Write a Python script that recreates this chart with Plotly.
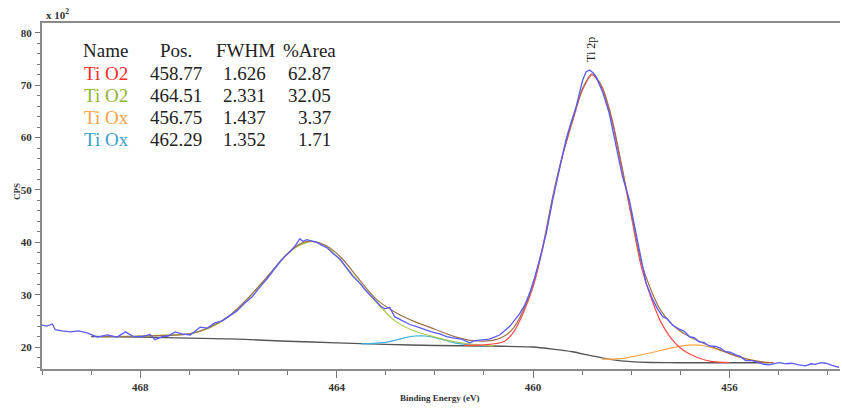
import plotly.graph_objects as go

# ---------------- data ----------------
data_be = [470.00, 469.90, 469.79, 469.73, 469.59, 469.42, 469.26, 469.08, 468.87, 468.67,
           468.47, 468.30, 468.14, 467.96, 467.80, 467.70, 467.55, 467.43, 467.29, 467.15,
           466.98, 466.78, 466.64, 466.48, 466.33, 466.17, 466.03, 465.87, 465.72, 465.56,
           465.42, 465.26, 465.11, 464.95, 464.83, 464.75, 464.69, 464.61, 464.50, 464.40,
           464.30, 464.20, 464.08, 463.93, 463.79, 463.67, 463.53, 463.39, 463.22, 463.10,
           463.02, 462.92, 462.82, 462.67, 462.51, 462.37, 462.21, 462.07, 461.90, 461.76,
           461.60, 461.46, 461.29, 461.19, 461.09, 460.89, 460.68, 460.48, 460.28, 460.17,
           460.07, 459.97, 459.87, 459.73, 459.60, 459.46, 459.33, 459.23, 459.12, 458.99,
           458.92, 458.85, 458.79, 458.72, 458.58, 458.45, 458.31, 458.18, 458.04, 457.94,
           457.84, 457.70, 457.56, 457.46, 457.36, 457.27, 457.16, 457.02, 456.92, 456.82,
           456.72, 456.62, 456.52, 456.42, 456.28, 456.19, 456.08, 455.99, 455.87, 455.78,
           455.67, 455.54, 455.40, 455.30, 455.20, 455.09, 454.99, 454.85, 454.73, 454.59,
           454.45, 454.34, 454.25, 454.14, 454.04, 453.91, 453.77]
data_cps = [24.2, 24.0, 24.4, 23.3, 23.1, 22.9, 23.1, 22.7, 21.9, 22.3,
            21.9, 22.9, 22.0, 22.0, 22.4, 21.4, 22.0, 22.1, 22.9, 22.5,
            22.3, 23.8, 23.6, 24.6, 25.0, 26.1, 26.9, 28.4, 29.6, 31.5,
            33.0, 35.0, 36.8, 38.2, 39.5, 40.7, 40.2, 40.5, 40.3, 40.0,
            39.4, 39.0, 37.9, 36.8, 35.0, 33.5, 32.2, 30.6, 29.0, 27.8,
            27.3, 27.6, 25.8, 25.0, 24.3, 23.9, 23.3, 22.9, 22.5, 22.0,
            21.7, 21.5, 20.8, 21.2, 21.3, 21.5, 22.3, 23.9, 26.3, 28.0,
            30.3, 33.2, 36.6, 41.8, 48.1, 53.8, 59.6, 62.8, 66.0, 71.0,
            72.6, 72.9, 72.5, 71.7, 68.6, 64.7, 58.3, 52.6, 48.1, 43.5,
            38.5, 32.2, 29.0, 27.2, 25.8, 25.4, 24.2, 23.4, 23.0, 22.0,
            21.8, 21.0, 20.9, 20.2, 20.1, 19.8, 19.1, 19.0, 18.5, 18.2,
            17.4, 17.4, 17.0, 16.7, 16.6, 16.8, 17.0, 16.8, 16.9, 16.6,
            16.4, 16.8, 16.7, 17.0, 16.9, 16.5, 16.1]

bg_be = [469.0, 468.0, 467.0, 466.0, 465.0, 464.0, 463.0, 462.0, 461.0, 460.0,
         459.6, 459.2, 458.8, 458.4, 458.0, 457.6, 457.0, 456.0, 455.2]
bg_cps = [22.0, 21.9, 21.7, 21.5, 21.1, 20.8, 20.5, 20.3, 20.2, 20.0,
          19.6, 19.1, 18.3, 17.6, 17.2, 17.05, 17.0, 17.0, 17.0]

tio2a_be = [461.4, 461.0, 460.6, 460.4, 460.2, 460.0, 459.8, 459.6, 459.4, 459.2,
            459.0, 458.8, 458.6, 458.4, 458.2, 458.0, 457.8, 457.6, 457.4, 457.2,
            457.0, 456.8, 456.6, 456.4, 456.2, 456.0]
tio2a_cps = [20.3, 20.4, 21.0, 22.8, 26.5, 31.5, 39.0, 48.5, 56.5, 63.0,
             69.0, 72.0, 69.5, 63.5, 54.5, 45.0, 35.5, 29.5, 24.8, 21.8,
             19.8, 18.6, 17.8, 17.3, 17.1, 17.0]

tio2b_be = [468.8, 468.0, 467.5, 467.0, 466.6, 466.2, 465.8, 465.4, 465.0, 464.8,
            464.6, 464.5, 464.4, 464.2, 464.0, 463.6, 463.2, 462.8, 462.4, 462.0,
            461.6, 461.2, 460.8]
tio2b_cps = [22.0, 22.1, 22.3, 22.5, 23.6, 25.8, 29.3, 33.5, 37.8, 39.2,
             40.0, 40.2, 40.0, 39.2, 37.3, 33.0, 28.6, 24.9, 23.0, 21.9,
             21.0, 20.5, 20.2]

tiox1_be = [458.6, 458.2, 457.9, 457.6, 457.2, 456.9, 456.7, 456.5, 456.2, 455.9,
            455.6, 455.3, 455.1]
tiox1_cps = [17.7, 17.8, 18.3, 18.9, 19.8, 20.3, 20.4, 20.2, 19.4, 18.4,
             17.6, 17.1, 17.0]

tiox2_be = [463.5, 463.0, 462.8, 462.6, 462.4, 462.2, 462.0, 461.8, 461.6, 461.3, 461.0]
tiox2_cps = [20.6, 20.9, 21.3, 21.8, 22.1, 22.1, 21.8, 21.3, 20.8, 20.4, 20.2]

env_be = [468.8, 468.0, 467.0, 466.6, 466.2, 465.8, 465.4, 465.0, 464.7, 464.5,
          464.2, 463.9, 463.6, 463.2, 462.8, 462.4,
          462.0, 461.6, 461.2, 460.8, 460.6, 460.4, 460.2, 460.0, 459.8, 459.6,
          459.4, 459.2, 459.0, 458.8, 458.6, 458.4, 458.2, 458.0, 457.8, 457.6,
          457.4, 457.2, 457.0, 456.8, 456.6, 456.4, 456.2, 455.9, 455.6, 455.3, 455.1]
env_cps = [22.0, 22.1, 22.5, 23.7, 25.9, 29.4, 33.6, 37.9, 39.9, 40.2,
           39.3, 37.0, 33.6, 29.2, 26.6, 24.8,
           23.4, 22.0, 21.2, 21.3, 22.0, 23.6, 27.0, 32.0, 39.3, 48.7,
           56.7, 63.2, 69.2, 72.2, 69.8, 63.8, 54.9, 45.5, 36.3, 30.9,
           27.0, 24.6, 23.0, 21.9, 21.0, 20.2, 19.5, 18.4, 17.6, 17.1, 17.0]

table_header = ["Name", "Pos.", "FWHM", "%Area"]
table_names = ["Ti O2", "Ti O2", "Ti Ox", "Ti Ox"]
table_pos = ["458.77", "464.51", "456.75", "462.29"]
table_fwhm = ["1.626", "2.331", "1.437", "1.352"]
table_area = ["62.87", "32.05", "3.37", "1.71"]
name_colors = ["#ff2a2a", "#8fb531", "#f7a245", "#3a9fd0"]

# ---------------- figure ----------------
W, H = 842, 408
ML, MR, MT, MB = 42, 2, 23, 39
PW, PH = W - ML - MR, H - MT - MB


def px(x):
    return (x - ML) / PW


def py(y):
    return (H - MB - y) / PH


fig = go.Figure()
fig.add_trace(go.Scatter(x=bg_be, y=bg_cps, mode="lines",
                         line=dict(color="#555555", width=1.4, shape="spline", smoothing=0.6)))
fig.add_trace(go.Scatter(x=tiox2_be, y=tiox2_cps, mode="lines",
                         line=dict(color="#3fb0e0", width=1.2, shape="spline", smoothing=0.8)))
fig.add_trace(go.Scatter(x=tiox1_be, y=tiox1_cps, mode="lines",
                         line=dict(color="#ffa64a", width=1.2, shape="spline", smoothing=0.8)))
fig.add_trace(go.Scatter(x=tio2b_be, y=tio2b_cps, mode="lines",
                         line=dict(color="#a9c94f", width=1.2, shape="spline", smoothing=0.8)))
fig.add_trace(go.Scatter(x=tio2a_be, y=tio2a_cps, mode="lines",
                         line=dict(color="#ff4a4a", width=1.2, shape="spline", smoothing=0.8)))
fig.add_trace(go.Scatter(x=env_be, y=env_cps, mode="lines",
                         line=dict(color="#a0704a", width=1.2, shape="spline", smoothing=0.8)))
fig.add_trace(go.Scatter(x=data_be, y=data_cps, mode="lines",
                         line=dict(color="#5a5aff", width=1.3)))

serif = "Liberation Serif"
tickfont = dict(family=serif, size=11, color="#333333", weight="bold")

fig.update_layout(
    width=W, height=H, showlegend=False,
    margin=dict(l=ML, r=MR, t=MT, b=MB, autoexpand=False),
    paper_bgcolor="white", plot_bgcolor="white",
    xaxis=dict(range=[470.0, 453.75], tick0=456, dtick=4, ticks="outside", ticklen=7,
               tickcolor="#777777", tickwidth=1, showgrid=False, zeroline=False,
               showline=True, linecolor="#8a8a8a", linewidth=2, mirror=True,
               tickfont=tickfont, automargin=False,
               minor=dict(dtick=1, ticks="outside", ticklen=4, tickcolor="#777777", showgrid=False)),
    yaxis=dict(range=[15.8, 81.9], tick0=20, dtick=10, ticks="outside", ticklen=5,
               tickcolor="#777777", tickwidth=1, showgrid=False, zeroline=False,
               showline=True, linecolor="#8a8a8a", linewidth=2,
               tickfont=tickfont, ticklabelstandoff=1, automargin=False,
               minor=dict(dtick=2, ticks="outside", ticklen=3, tickcolor="#777777", showgrid=False)),
)

ann = []
ann.append(dict(x=px(44), y=py(14), xref="paper", yref="paper", text="x 10<sup>2</sup>",
                showarrow=False, xanchor="left", yanchor="middle",
                font=dict(family=serif, size=11, color="#333333", weight="bold")))
ann.append(dict(x=px(17), y=py(192), xref="paper", yref="paper", text="CPS", textangle=-90,
                showarrow=False, xanchor="center", yanchor="middle",
                font=dict(family=serif, size=9, color="#333333", weight="bold")))
ann.append(dict(x=px(440), y=py(398), xref="paper", yref="paper", text="Binding Energy (eV)",
                showarrow=False, xanchor="center", yanchor="middle",
                font=dict(family=serif, size=9, color="#333333", weight="bold")))
ann.append(dict(x=px(591), y=py(50), xref="paper", yref="paper", text="Ti 2p", textangle=-90,
                showarrow=False, xanchor="center", yanchor="middle",
                font=dict(family=serif, size=12, color="#222222")))

tsize = 19
tfont = dict(family=serif, size=tsize, color="#222222")
row_y = [51, 73, 95, 117, 139]
ann.append(dict(x=px(81), y=py(row_y[0]), xref="paper", yref="paper", text=table_header[0],
                showarrow=False, xanchor="left", yanchor="middle", font=tfont))
ann.append(dict(x=px(176), y=py(row_y[0]), xref="paper", yref="paper", text=table_header[1],
                showarrow=False, xanchor="center", yanchor="middle", font=tfont))
ann.append(dict(x=px(245), y=py(row_y[0]), xref="paper", yref="paper", text=table_header[2],
                showarrow=False, xanchor="center", yanchor="middle", font=tfont))
ann.append(dict(x=px(338), y=py(row_y[0]), xref="paper", yref="paper", text=table_header[3],
                showarrow=False, xanchor="right", yanchor="middle", font=tfont))
for i in range(4):
    yy = py(row_y[i + 1])
    ann.append(dict(x=px(82), y=yy, xref="paper", yref="paper", text=table_names[i],
                    showarrow=False, xanchor="left", yanchor="middle",
                    font=dict(family=serif, size=tsize, color=name_colors[i])))
    ann.append(dict(x=px(204), y=yy, xref="paper", yref="paper", text=table_pos[i],
                    showarrow=False, xanchor="right", yanchor="middle", font=tfont))
    ann.append(dict(x=px(268), y=yy, xref="paper", yref="paper", text=table_fwhm[i],
                    showarrow=False, xanchor="right", yanchor="middle", font=tfont))
    ann.append(dict(x=px(333), y=yy, xref="paper", yref="paper", text=table_area[i],
                    showarrow=False, xanchor="right", yanchor="middle", font=tfont))

fig.update_layout(annotations=ann)
fig.write_html(
    "out.html",
    config={"displayModeBar": False},
    post_script="document.body.style.margin='0';document.body.style.overflow='hidden';",
)
